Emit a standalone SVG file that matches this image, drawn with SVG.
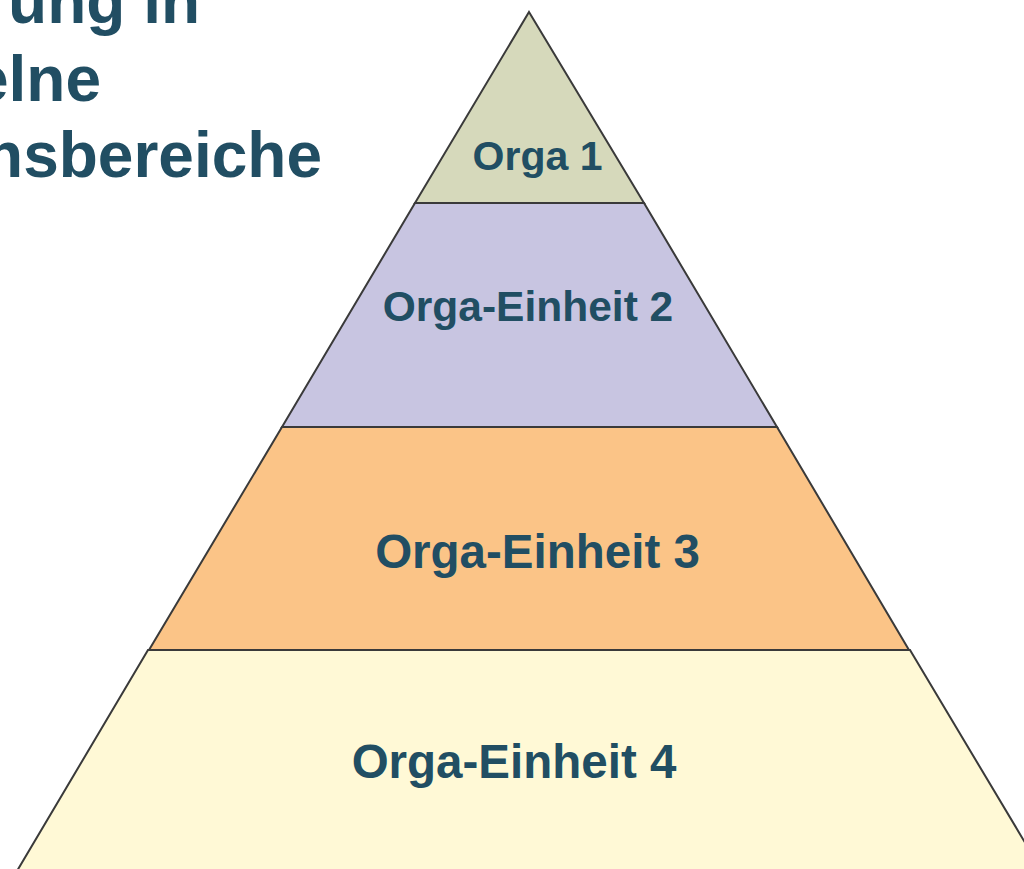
<svg xmlns="http://www.w3.org/2000/svg" width="1024" height="869" viewBox="0 0 1024 869">
  <style>
    .layer { stroke: #3a3a3a; stroke-width: 2; stroke-linejoin: miter; }
    .lbl { font-family: "Liberation Sans", Arial, sans-serif; font-weight: bold; fill: #214E63; text-anchor: middle; }
    .title { font-family: "Liberation Sans", Arial, sans-serif; font-weight: bold; fill: #214E63; font-size: 64px; text-anchor: end; }
  </style>
  <rect width="1024" height="869" fill="#ffffff"/>
  <g id="title">
    <text class="title" x="200" y="23">ung in</text>
    <text class="title" x="101" y="101">elne</text>
    <text class="title" x="322" y="177">nsbereiche</text>
  </g>
  <g id="layer4">
    <polygon class="layer" fill="#FFF9D6" points="148,650 910,650 1042,871 17,871"/>
    <text class="lbl" x="514" y="778" font-size="47.5">Orga-Einheit 4</text>
  </g>
  <g id="layer3">
    <polygon class="layer" fill="#FBC487" points="282,427 777,427 909,650 149,650"/>
    <text class="lbl" x="537.5" y="568" font-size="47.5">Orga-Einheit 3</text>
  </g>
  <g id="layer2">
    <polygon class="layer" fill="#C8C5E1" points="415,203 644,203 777,427 282,427"/>
    <text class="lbl" x="528" y="321" font-size="42.5">Orga-Einheit 2</text>
  </g>
  <g id="layer1">
    <polygon class="layer" fill="#D6D9BB" points="529,12 644,203 415,203"/>
    <text class="lbl" x="537.5" y="170" font-size="41">Orga 1</text>
  </g>
</svg>
